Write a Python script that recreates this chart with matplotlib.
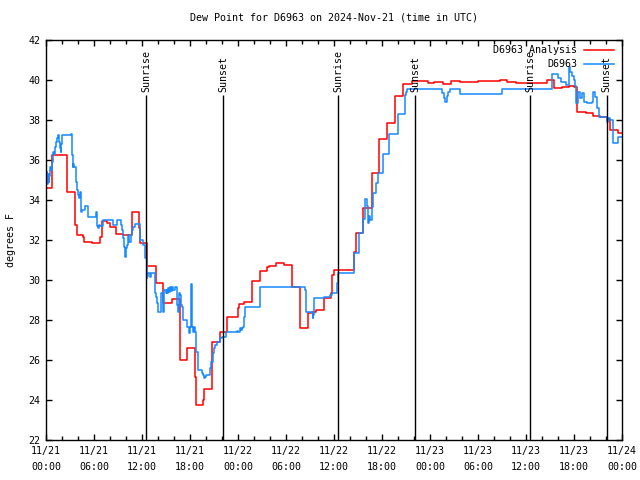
import numpy as np
import pandas as pd
import matplotlib
matplotlib.use('Agg')
import matplotlib.pyplot as plt
import matplotlib.dates as mdates

plt.rcParams['font.family'] = ['DejaVu Sans Mono']

# hours since 2024-11-21 00:00 UTC, step values (deg F)
analysis_hours = [0.0, 0.8, 2.6, 3.67, 3.9, 4.67, 4.8, 5.8, 6.75, 6.96, 7.58, 8.0, 8.75, 9.67,
                  10.7, 11.67, 11.75, 12.67, 13.7, 14.67, 15.7, 16.75, 17.6, 18.6, 18.8, 19.6,
                  19.75, 20.8, 21.75, 22.67, 23.96, 24.1, 24.75, 25.7, 26.75, 27.6, 27.9, 28.75,
                  29.8, 30.7, 31.75, 32.8, 33.2, 33.8, 34.75, 35.6, 35.75, 36.0, 38.5, 38.7,
                  39.67, 40.8, 41.67, 42.67, 43.6, 44.6, 45.7, 47.8, 48.5, 49.6, 50.6, 51.75,
                  54.0, 56.75, 57.6, 58.75, 61.5, 62.6, 63.5, 64.5, 65.4, 66.0, 66.4, 67.5,
                  68.4, 69.25, 70.1, 70.5, 71.5, 72.0]
analysis_vals = [34.58, 36.25, 34.42, 32.75, 32.25, 32.13, 31.88, 31.83, 32.17, 32.97, 32.83,
                 32.67, 32.28, 32.25, 33.38, 32.58, 31.83, 30.72, 29.83, 28.83, 29.05, 26.0,
                 26.58, 25.17, 23.75, 24.0, 24.53, 26.92, 27.42, 28.17, 28.62, 28.8, 28.92,
                 29.95, 30.45, 30.63, 30.7, 30.83, 30.75, 29.67, 27.58, 28.33, 28.42, 28.5,
                 29.12, 29.33, 30.25, 30.5, 31.42, 32.37, 33.58, 35.33, 37.05, 37.87, 39.2,
                 39.8, 39.95, 39.87, 39.9, 39.8, 39.93, 39.9, 39.95, 40.0, 39.9, 39.83, 39.87,
                 40.0, 39.58, 39.67, 39.72, 39.67, 38.42, 38.37, 38.2, 38.17, 38.05, 37.5,
                 37.37, 37.37]

obs_hours = [0.0, 0.09, 0.16, 0.25, 0.34, 0.41, 0.5, 0.62, 0.75, 0.91, 1.0, 1.12, 1.25, 1.34,
             1.5, 1.62, 1.71, 1.84, 1.91, 2.04, 3.12, 3.25, 3.34, 3.41, 3.5, 3.71, 3.79, 3.91,
             4.04, 4.12, 4.21, 4.25, 4.34, 4.5, 4.88, 5.29, 6.21, 6.25, 6.34, 6.41, 6.54, 6.66,
             6.75, 7.16, 8.41, 8.91, 9.34, 9.46, 9.59, 9.75, 9.88, 10.0, 10.16, 10.29, 10.41,
             10.59, 10.71, 10.91, 11.12, 11.75, 12.16, 12.38, 12.59, 12.66, 12.79, 13.0, 13.12,
             13.62, 13.75, 13.91, 14.04, 14.34, 14.66, 14.75, 15.0, 15.09, 15.16, 15.29, 15.41,
             15.5, 15.59, 15.71, 15.84, 16.12, 16.34, 16.41, 16.54, 16.66, 16.75, 16.84, 16.96,
             17.09, 17.16, 17.59, 17.91, 18.0, 18.09, 18.12, 18.21, 18.29, 18.41, 18.5, 18.62,
             18.75, 19.04, 19.46, 19.66, 19.79, 19.88, 20.0, 20.5, 20.62, 20.84, 21.0, 21.16,
             21.41, 21.75, 21.96, 22.5, 23.84, 24.04, 24.25, 24.34, 24.46, 24.66, 24.75, 24.91,
             26.75, 32.38, 32.5, 33.21, 33.34, 33.41, 33.54, 34.75, 35.5, 35.71, 36.41, 36.54,
             38.5, 39.16, 39.59, 39.88, 40.16, 40.29, 40.41, 40.5, 40.71, 40.91, 41.25, 41.54,
             42.16, 42.91, 44.04, 44.88, 45.0, 45.16, 49.46, 49.75, 49.88, 50.09, 50.29, 50.5,
             51.75, 56.96, 63.21, 64.0, 64.38, 65.0, 65.41, 65.5, 65.75, 66.0, 66.12, 66.25,
             66.54, 66.75, 66.96, 67.25, 67.59, 68.21, 68.41, 68.62, 68.91, 69.16, 70.09, 70.29,
             70.5, 70.91, 71.54, 72.0]
obs_vals = [35.0, 35.4, 34.8, 35.3, 34.9, 35.2, 35.67, 35.5, 35.9, 36.42, 36.3, 36.67, 36.9,
            37.08, 37.25, 36.9, 36.6, 36.42, 36.8, 37.25, 37.3, 36.25, 35.67, 35.8, 35.67, 35.08,
            34.9, 34.5, 34.25, 34.08, 34.3, 34.42, 33.42, 33.5, 33.7, 33.17, 33.17, 33.4, 32.9,
            32.7, 32.58, 32.75, 32.7, 33.0, 32.75, 33.0, 32.75, 32.5, 32.08, 31.67, 31.17, 31.58,
            31.75, 32.25, 31.92, 32.25, 32.5, 32.67, 32.78, 32.0, 31.75, 31.08, 30.1, 30.2, 30.33,
            30.17, 30.33, 29.33, 29.17, 28.83, 28.42, 29.33, 28.42, 29.5, 29.33, 29.5, 29.33,
            29.58, 29.42, 29.63, 29.47, 29.63, 29.5, 29.63, 29.5, 28.75, 28.42, 29.33, 29.25,
            28.75, 28.67, 28.33, 28.0, 27.67, 27.33, 27.67, 28.0, 29.8, 29.17, 27.67, 27.42,
            27.67, 27.42, 26.42, 25.5, 25.33, 25.25, 25.08, 25.17, 25.25, 25.58, 25.92, 26.33,
            26.58, 26.75, 26.92, 27.08, 27.17, 27.42, 27.47, 27.42, 27.58, 27.5, 27.58, 27.67,
            28.17, 28.63, 29.63, 29.5, 28.38, 28.33, 28.08, 28.25, 29.08, 29.17, 29.25, 29.33,
            29.83, 30.33, 31.33, 32.33, 33.03, 34.03, 33.7, 32.83, 33.2, 33.0, 33.67, 34.33,
            34.83, 35.33, 36.28, 37.28, 38.3, 39.25, 39.4, 39.53, 39.33, 39.08, 38.9, 39.2, 39.4,
            39.53, 39.28, 39.53, 40.28, 40.1, 39.92, 39.75, 40.67, 40.4, 40.2, 40.0, 39.7, 38.83,
            39.42, 39.08, 39.33, 38.92, 38.83, 38.92, 39.38, 39.17, 38.58, 38.17, 37.92, 38.08,
            38.0, 36.83, 37.17, 37.17]

sun_times = ['2024-11-21 12:32', '2024-11-21 22:08', '2024-11-22 12:32',
             '2024-11-22 22:08', '2024-11-23 12:32', '2024-11-23 22:05']
sun_labels = ['Sunrise', 'Sunset', 'Sunrise', 'Sunset', 'Sunrise', 'Sunset']

t0 = pd.Timestamp('2024-11-21 00:00')


def to_time(hours):
  return t0 + pd.to_timedelta(np.asarray(hours), unit='h')


fs = 7.2
fig = plt.figure(figsize=(6.4, 4.8), dpi=100)
ax = fig.add_axes([46 / 640, 40 / 480, 576 / 640, 400 / 480])

ax.plot(to_time(analysis_hours), analysis_vals, drawstyle='steps-post', color='#ff0000',
        lw=1.1, label='D6963 Analysis')
ax.plot(to_time(obs_hours), obs_vals, drawstyle='steps-post', color='#1589ff',
        lw=1.1, label='D6963')

sun = pd.to_datetime(sun_times)
ax.vlines(sun, 22, 39.25, color='black', lw=1)
for t, lab in zip(sun, sun_labels):
  ax.text(t, 39.4, lab, rotation=90, ha='center', va='bottom', fontsize=fs)

ax.set_xlim(t0, t0 + pd.Timedelta(hours=72))
ax.set_ylim(22, 42)
ax.set_yticks(np.arange(22, 43, 2))
ax.xaxis.set_major_locator(mdates.HourLocator(byhour=[0, 6, 12, 18]))
ax.xaxis.set_minor_locator(mdates.HourLocator(byhour=range(0, 24, 2)))
ax.xaxis.set_major_formatter(mdates.DateFormatter('%m/%d\n%H:%M'))
ax.tick_params(which='both', direction='in', top=True, right=True, labelsize=fs, width=1)
ax.tick_params(which='major', length=4, pad=4)
ax.tick_params(which='minor', length=3)
for lab in ax.get_xticklabels():
  lab.set_linespacing(1.75)
for s in ax.spines.values():
  s.set_linewidth(1)

ax.set_title('Dew Point for D6963 on 2024-Nov-21 (time in UTC)', fontsize=fs, pad=14)
ax.set_ylabel('degrees F', fontsize=fs)
ax.yaxis.set_label_coords(-0.052, 0.5)

ax.legend(loc='upper right', bbox_to_anchor=(614 / 640, 435 / 480), bbox_transform=fig.transFigure,
          frameon=False, markerfirst=False, fontsize=fs, handlelength=3, handletextpad=0.7,
          labelspacing=0.4, borderpad=0, borderaxespad=0)

fig.savefig('out.png', dpi=100)
